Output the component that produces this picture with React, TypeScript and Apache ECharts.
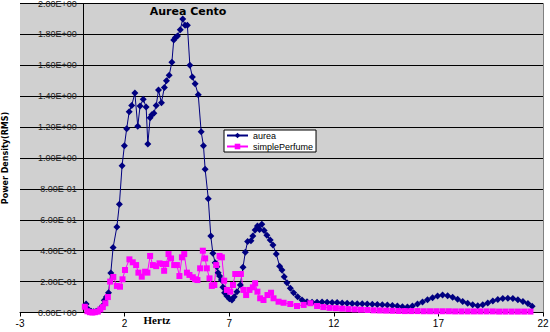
import React, { useEffect, useRef } from "react";
import * as echarts from "echarts";

const CHART_TITLE = "Aurea Cento";
const X_NAME = "Hertz";
const Y_NAME = "Power Density(RMS)";
const SERIES_NAMES = ["aurea", "simplePerfume"];

const X_MIN = -3;
const X_MAX = 22;

const aureaHz = [
  0.16, 0.28, 0.4, 0.52, 0.64, 0.76, 0.88, 0.96, 1.03, 1.13, 1.23, 1.34, 1.45, 1.63, 1.75, 1.88,
  1.99, 2.1, 2.22, 2.34, 2.49, 2.63, 2.74, 2.89, 3.03, 3.11, 3.22, 3.3, 3.4, 3.51, 3.62, 3.76,
  3.9, 4.0, 4.13, 4.26, 4.35, 4.43, 4.53, 4.66, 4.78, 4.89, 5.0, 5.12, 5.24, 5.37, 5.52, 5.66,
  5.77, 5.85, 6.0, 6.12, 6.22, 6.33, 6.41, 6.47, 6.54, 6.63, 6.7, 6.78, 6.89, 7.01, 7.13, 7.24,
  7.37, 7.53, 7.66, 7.77, 7.88, 8.04, 8.13, 8.24, 8.35, 8.45, 8.56, 8.67, 8.8, 8.96, 9.09, 9.25,
  9.41, 9.52, 9.63, 9.76, 9.92, 10.08, 10.27, 10.48, 10.72, 10.96, 11.2, 11.44, 11.68, 11.92,
  12.16, 12.4, 12.64, 12.88, 13.12, 13.36, 13.6, 13.84, 14.08, 14.32, 14.56, 14.8, 15.04, 15.28,
  15.52, 15.76, 16.0, 16.24, 16.48, 16.72, 16.96, 17.2, 17.44, 17.68, 17.92, 18.16, 18.4, 18.64,
  18.88, 19.12, 19.36, 19.6, 19.84, 20.08, 20.32, 20.56, 20.8, 21.04, 21.28, 21.48,
];
const aureaPower = [
  0.055, 0.02, 0.008, 0.005, 0.008, 0.012, 0.03, 0.045, 0.08, 0.1, 0.128, 0.256, 0.42, 0.554, 0.7, 0.95,
  1.08, 1.19, 1.3, 1.34, 1.42, 1.205, 1.337, 1.38, 1.33, 1.09, 1.26, 1.28, 1.29, 1.34, 1.44, 1.358,
  1.457, 1.5, 1.535, 1.62, 1.764, 1.78, 1.79, 1.83, 1.9, 1.86, 1.86, 1.6, 1.524, 1.48, 1.41, 1.17,
  1.08, 0.927, 0.737, 0.495, 0.383, 0.322, 0.296, 0.258, 0.236, 0.21, 0.163, 0.128, 0.107, 0.089, 0.081, 0.102,
  0.135, 0.178, 0.293, 0.39, 0.46, 0.465, 0.495, 0.534, 0.56, 0.538, 0.571, 0.53, 0.5, 0.47, 0.437, 0.379,
  0.3, 0.275, 0.232, 0.193, 0.157, 0.128, 0.102, 0.081, 0.07, 0.066, 0.066, 0.068, 0.066, 0.064,
  0.064, 0.062, 0.06, 0.058, 0.056, 0.056, 0.055, 0.054, 0.052, 0.05, 0.048, 0.045, 0.042, 0.038,
  0.036, 0.042, 0.055, 0.068, 0.082, 0.095, 0.106, 0.113, 0.108, 0.098, 0.086, 0.072, 0.06, 0.05,
  0.043, 0.05, 0.062, 0.075, 0.084, 0.09, 0.092, 0.09, 0.082, 0.072, 0.058, 0.04,
];

const perfumeHz = [
  0.1, 0.22, 0.34, 0.46, 0.58, 0.72, 0.84, 0.96, 1.08, 1.2, 1.31, 1.46, 1.63, 1.78, 1.9, 2.02,
  2.23, 2.39, 2.55, 2.66, 2.82, 2.98, 3.09, 3.22, 3.35, 3.51, 3.67, 3.83, 3.89, 3.99, 4.1, 4.22,
  4.37, 4.5, 4.62, 4.74, 4.85, 4.98, 5.1, 5.26, 5.37, 5.48, 5.61, 5.74, 5.85, 5.93, 6.06, 6.17,
  6.29, 6.38, 6.54, 6.65, 6.76, 6.89, 7.05, 7.18, 7.29, 7.45, 7.56, 7.68, 7.81, 7.97, 8.13, 8.24,
  8.35, 8.48, 8.64, 8.83, 9.0, 9.12, 9.36, 9.6, 9.92, 10.24, 10.56, 10.88, 11.2, 11.5, 11.8, 12.1,
  12.4, 12.7, 13.0, 13.3, 13.6, 13.9, 14.2, 14.5, 14.8, 15.1, 15.4, 15.7, 16.0, 16.3, 16.6, 16.9,
  17.2, 17.5, 17.8, 18.1, 18.4, 18.7, 19.0, 19.3, 19.6, 19.9, 20.2, 20.5, 20.8, 21.1, 21.4,
];
const perfumePower = [
  0.037, 0.008, 0.002, 0.0, 0.002, 0.006, 0.02, 0.035, 0.06, 0.1, 0.2, 0.23, 0.172, 0.167, 0.215, 0.275,
  0.344, 0.325, 0.307, 0.258, 0.232, 0.264, 0.258, 0.366, 0.307, 0.3, 0.318, 0.314, 0.27, 0.314, 0.378, 0.35,
  0.307, 0.307, 0.236, 0.357, 0.378, 0.258, 0.243, 0.228, 0.215, 0.21, 0.286, 0.4, 0.35, 0.286, 0.221, 0.172,
  0.178, 0.307, 0.366, 0.357, 0.206, 0.146, 0.135, 0.178, 0.249, 0.249, 0.249, 0.146, 0.113, 0.146, 0.163, 0.189,
  0.135, 0.092, 0.081, 0.113, 0.128, 0.092, 0.07, 0.063, 0.055, 0.042, 0.049, 0.06, 0.042, 0.035, 0.03, 0.028,
  0.025, 0.022, 0.02, 0.018, 0.016, 0.014, 0.013, 0.012, 0.011, 0.01, 0.009, 0.009, 0.009, 0.008, 0.008, 0.008,
  0.008, 0.008, 0.007, 0.007, 0.007, 0.007, 0.007, 0.007, 0.007, 0.006, 0.006, 0.006, 0.006, 0.006, 0.006,
];

function sci(v: number): string {
  const n = Number(v.toPrecision(10));
  if (n === 0) return "0.00E+00";
  const e = Math.floor(Math.log10(Math.abs(n)) + 1e-9);
  const m = n / Math.pow(10, e);
  const ae = Math.abs(e);
  return m.toFixed(2) + "E" + (e < 0 ? "-" : "+") + (ae < 10 ? "0" : "") + ae;
}

const GRID_LEFT = 20;
const GRID_RIGHT = 7;
const WIDTH = 550;

export default function App() {
  const ref = useRef<HTMLDivElement>(null);
  useEffect(() => {
    if (!ref.current) return;
    const chart = echarts.init(ref.current, undefined, { renderer: "svg" });
    const plotW = WIDTH - GRID_LEFT - GRID_RIGHT;
    // shift the value axis so it sits at Hertz = 0, as in the reference
    const zeroOffset = ((0 - X_MIN) / (X_MAX - X_MIN)) * plotW;
    chart.setOption({
      animation: false,
      backgroundColor: "#ffffff",
      grid: {
        left: GRID_LEFT,
        right: GRID_RIGHT,
        top: 3.5,
        bottom: 19.5,
        show: true,
        backgroundColor: "#d0d0d0",
        borderWidth: 0,
        containLabel: false,
        outerBoundsMode: "none",
      },
      legend: {
        orient: "vertical",
        left: 224,
        top: 130,
        backgroundColor: "#ffffff",
        borderColor: "#000000",
        borderWidth: 1,
        borderRadius: 0,
        padding: [1, 3, 1, 2],
        itemGap: 2,
        itemWidth: 21,
        itemHeight: 7,
        textStyle: { fontSize: 9, color: "#000", fontFamily: "Liberation Sans, Arial, sans-serif" },
        data: SERIES_NAMES,
      },
      xAxis: {
        type: "value",
        min: X_MIN,
        max: X_MAX,
        interval: 5,
        axisLine: { show: true, onZero: false, lineStyle: { color: "#000", width: 1 } },
        axisTick: { show: true, length: 4, lineStyle: { color: "#000" } },
        axisLabel: { margin: 6, fontSize: 10, color: "#000", fontFamily: "Liberation Sans, Arial, sans-serif" },
        splitLine: { show: false },
      },
      yAxis: [
        {
          type: "value",
          min: 0,
          max: 2,
          interval: 0.2,
          offset: -zeroOffset,
          axisLine: { show: true, onZero: false, lineStyle: { color: "#000", width: 1 } },
          axisTick: { show: true, length: 3, lineStyle: { color: "#000" } },
          axisLabel: {
            formatter: sci,
            margin: 6,
            fontSize: 9,
            color: "#222",
            fontFamily: "Liberation Sans, Arial, sans-serif",
          },
          splitLine: { show: true, lineStyle: { color: "#000", width: 1 } },
        },
        {
          type: "value",
          min: 0,
          max: 2,
          position: "right",
          axisLine: { show: true, onZero: false, lineStyle: { color: "#808080", width: 1 } },
          axisTick: { show: false },
          axisLabel: { show: false },
          splitLine: { show: false },
        },
      ],
      graphic: [
        {
          type: "text",
          x: 188,
          y: 11,
          style: {
            text: CHART_TITLE,
            font: "bold 11px 'DejaVu Sans', Verdana, sans-serif",
            fill: "#000",
            align: "center",
            verticalAlign: "middle",
            textAlign: "center",
            textVerticalAlign: "middle",
          },
        },
        {
          type: "text",
          x: 5,
          y: 158,
          rotation: Math.PI / 2,
          style: {
            text: Y_NAME,
            font: "bold 8px 'DejaVu Sans', Verdana, sans-serif",
            fill: "#000",
            align: "center",
            verticalAlign: "middle",
            textAlign: "center",
            textVerticalAlign: "middle",
          },
        },
        {
          type: "text",
          x: 157,
          y: 319.5,
          style: {
            text: X_NAME,
            font: "bold 11px 'Liberation Serif', 'Times New Roman', serif",
            fill: "#000",
            align: "center",
            verticalAlign: "middle",
            textAlign: "center",
            textVerticalAlign: "middle",
          },
        },
      ],
      series: [
        {
          name: SERIES_NAMES[0],
          type: "line",
          yAxisIndex: 0,
          data: aureaHz.map((x, i) => [x, aureaPower[i]]),
          symbol: "diamond",
          symbolSize: 7,
          showAllSymbol: true,
          itemStyle: { color: "#000080" },
          lineStyle: { color: "#000080", width: 1 },
        },
        {
          name: SERIES_NAMES[1],
          type: "line",
          yAxisIndex: 0,
          data: perfumeHz.map((x, i) => [x, perfumePower[i]]),
          symbol: "rect",
          symbolSize: 6,
          showAllSymbol: true,
          itemStyle: { color: "#ff00ff" },
          lineStyle: { color: "#ff00ff", width: 1 },
        },
      ],
    });
    return () => chart.dispose();
  }, []);
  return <div ref={ref} style={{ position: "absolute", left: 0, top: 0, width: 550, height: 332 }} />;
}
